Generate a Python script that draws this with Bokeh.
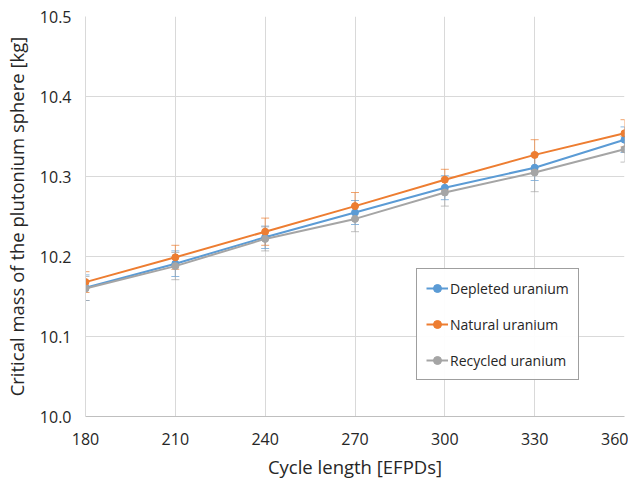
from bokeh.plotting import figure
from bokeh.models import ColumnDataSource, Whisker, Legend, LegendItem, FixedTicker, NumeralTickFormatter, Range1d
from bokeh.embed import file_html
from bokeh.resources import INLINE

cycle = [180, 210, 240, 270, 300, 330, 360]
depleted = [10.161, 10.191, 10.224, 10.255, 10.286, 10.311, 10.346]
natural = [10.168, 10.199, 10.231, 10.263, 10.296, 10.327, 10.354]
recycled = [10.160, 10.188, 10.222, 10.247, 10.280, 10.305, 10.334]
depleted_err = [0.016, 0.016, 0.014, 0.015, 0.015, 0.016, 0.016]
natural_err = [0.013, 0.015, 0.017, 0.017, 0.013, 0.019, 0.017]
recycled_err = [0.015, 0.017, 0.015, 0.016, 0.017, 0.024, 0.016]
y_ticks = [10.0, 10.1, 10.2, 10.3, 10.4, 10.5]
x_ticks = [180, 210, 240, 270, 300, 330, 360]

FONT = "Open Sans"

p = figure(width=628, height=482, output_backend="svg", toolbar_location=None,
           x_range=Range1d(180, 360), y_range=Range1d(10.0, 10.5),
           min_border_left=84, min_border_right=4, min_border_top=16, min_border_bottom=66)
p.outline_line_color = None
p.background_fill_color = "white"
p.xgrid.grid_line_color = "#d9d9d9"
p.ygrid.grid_line_color = "#d9d9d9"
p.xaxis.ticker = FixedTicker(ticks=x_ticks)
p.yaxis.ticker = FixedTicker(ticks=y_ticks)
p.yaxis.formatter = NumeralTickFormatter(format="0.0")
for ax in (p.xaxis[0], p.yaxis[0]):
    ax.axis_line_color = "#d9d9d9"
    ax.major_tick_line_color = None
    ax.minor_tick_line_color = None
    ax.major_label_text_font = FONT
    ax.major_label_text_font_size = "16px"
    ax.major_label_text_color = "#262626"
    ax.axis_label_text_font = FONT
    ax.axis_label_text_font_size = "18.5px"
    ax.axis_label_text_font_style = "normal"
    ax.axis_label_text_color = "#262626"
p.xaxis.axis_label = "Cycle length [EFPDs]"
p.yaxis.axis_label = "Critical mass of the plutonium sphere [kg]"
p.xaxis.axis_line_color = "#bfbfbf"
p.yaxis.axis_line_color = "#d9d9d9"
p.xaxis.major_label_standoff = 10
p.yaxis.major_label_standoff = 8
p.xaxis.axis_label_standoff = 6
p.yaxis.axis_label_standoff = 8

series = [
    ("Depleted uranium", depleted, depleted_err, "#5B9BD5"),
    ("Natural uranium", natural, natural_err, "#ED7D31"),
    ("Recycled uranium", recycled, recycled_err, "#A5A5A5"),
]
items = []
for name, vals, errs, color in series:
    src = ColumnDataSource(dict(x=cycle, y=vals,
                                lo=[v - e for v, e in zip(vals, errs)],
                                hi=[v + e for v, e in zip(vals, errs)]))
    w = Whisker(source=src, base="x", upper="hi", lower="lo",
                line_color=color, line_alpha=0.7, line_width=1)
    w.upper_head.size = 8
    w.lower_head.size = 8
    w.upper_head.line_color = color
    w.lower_head.line_color = color
    w.upper_head.line_alpha = 0.7
    w.lower_head.line_alpha = 0.7
    p.add_layout(w)
for name, vals, errs, color in series:
    src = ColumnDataSource(dict(x=cycle, y=vals))
    l = p.line("x", "y", source=src, line_color=color, line_width=2)
    c = p.scatter("x", "y", source=src, size=7, fill_color=color, line_color=color)
    items.append(LegendItem(label=name, renderers=[l, c]))

legend = Legend(items=items, location=(331, 36))
legend.label_text_font = FONT
legend.label_text_font_size = "14px"
legend.label_text_color = "#262626"
legend.border_line_color = "#404040"
legend.border_line_width = 1
legend.spacing = 16
legend.padding = 9
legend.margin = 0
legend.glyph_width = 22
legend.label_standoff = 2
legend.background_fill_color = "white"
p.add_layout(legend, "center")

open("out.html", "w").write(file_html(p, INLINE))
